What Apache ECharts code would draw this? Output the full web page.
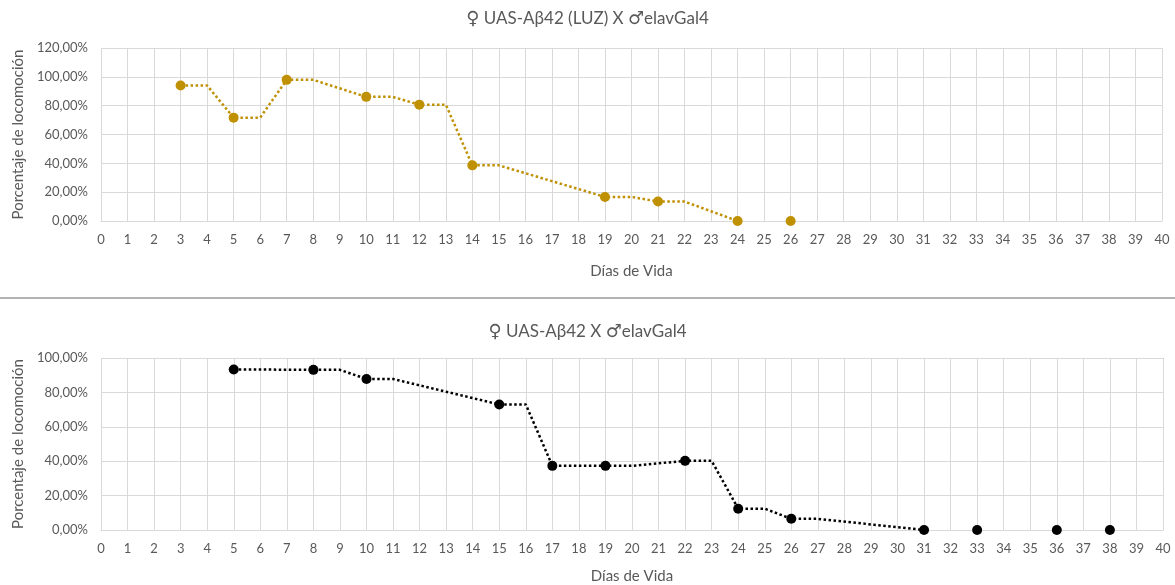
<!DOCTYPE html>
<html>
<head>
<meta charset="utf-8">
<script src="https://cdn.jsdelivr.net/npm/echarts@6/dist/echarts.min.js"></script>
<style>
html,body{margin:0;padding:0;background:#fff;}
#c{width:1175px;height:585px;}
</style>
</head>
<body>
<div id="c"></div>
<script>
// ---- data ----
const titleTopParts = ['♀', 'UAS-Aβ42 (LUZ) X', '♂', 'elavGal4'];
const titleBottomParts = ['♀', 'UAS-Aβ42 X', '♂', 'elavGal4'];
const xAxisName = 'Días de Vida';
const yAxisName = 'Porcentaje de locomoción';

const daysLuz = [3, 5, 7, 10, 12, 14, 19, 21, 24, 26];
const valsLuz = [94.0, 71.7, 97.9, 86.1, 80.7, 38.6, 16.7, 13.5, 0, 0];

const daysAb = [5, 8, 10, 15, 17, 19, 22, 24, 26, 31, 33, 36, 38];
const valsAb = [93.3, 93.1, 87.8, 73.0, 37.3, 37.3, 40.2, 12.4, 6.5, 0, 0, 0, 0];

const xMin = 0, xMax = 40;
const yMaxTop = 120, yMaxBottom = 100;

// line path as drawn in the original: each point held for one day, then joined to the next
function stepLine(days, vals) {
  const out = [];
  for (let i = 0; i < days.length; i++) {
    out.push([days[i], vals[i]]);
    if (vals[i] === 0) break;
    if (i < days.length - 1) out.push([days[i] + 1, vals[i]]);
  }
  return out;
}
const pts = (d, v) => d.map((x, i) => [x, v[i]]);
const richTitle = p => '{s|' + p[0] + '} ' + p[1] + ' {s|' + p[2] + '}' + p[3];

const font = 'Lato, "Open Sans", sans-serif';
const txt = '#595959';
const gridC = '#d9d9d9';
const fmtPct = v => v.toFixed(2).replace('.', ',') + '%';

function xAx(gi) {
  return {
    type: 'value', gridIndex: gi, min: xMin, max: xMax, interval: 1,
    name: xAxisName, nameLocation: 'middle', nameGap: gi === 0 ? 43 : 39,
    nameTextStyle: {color: txt, fontSize: 15, fontFamily: font},
    axisLine: {show: true, lineStyle: {color: gridC, width: 1}},
    axisTick: {show: false},
    axisLabel: {color: txt, fontSize: 13, fontFamily: font, margin: 12},
    splitLine: {show: true, lineStyle: {color: gridC, width: 1}}
  };
}
function yAx(gi, max) {
  return {
    type: 'value', gridIndex: gi, min: 0, max: max, interval: 20,
    name: yAxisName, nameLocation: 'middle', nameGap: 70,
    nameTextStyle: {color: txt, fontSize: 15, fontFamily: font},
    axisLine: {show: false}, axisTick: {show: false},
    axisLabel: {color: txt, fontSize: 13, fontFamily: font, margin: 13, formatter: fmtPct},
    splitLine: {show: true, lineStyle: {color: gridC, width: 1}}
  };
}
const titleStyle = {
  color: txt, fontSize: 17, fontWeight: 'normal', fontFamily: font,
  rich: {s: {fontFamily: '"DejaVu Sans", sans-serif', fontSize: 18, color: txt}}
};

const gold = '#BF9000';
const black = '#000000';

const chart = echarts.init(document.getElementById('c'), null, {renderer: 'canvas'});
chart.setOption({
  backgroundColor: '#fff',
  animation: false,
  title: [
    {text: richTitle(titleTopParts), left: 'center', top: 5, textStyle: titleStyle},
    {text: richTitle(titleBottomParts), left: 'center', top: 318, textStyle: titleStyle}
  ],
  graphic: [
    {type: 'line', shape: {x1: 0, y1: 298, x2: 1175, y2: 298}, style: {stroke: '#b3b3b3', lineWidth: 2}}
  ],
  grid: [
    {left: 101, right: 13, top: 48, bottom: 364},
    {left: 101, right: 12, top: 358, bottom: 55}
  ],
  xAxis: [xAx(0), xAx(1)],
  yAxis: [yAx(0, yMaxTop), yAx(1, yMaxBottom)],
  series: [
    {type: 'line', xAxisIndex: 0, yAxisIndex: 0, data: stepLine(daysLuz, valsLuz), showSymbol: false,
      lineStyle: {color: gold, width: 2.5, type: [2.5, 2.5]}, z: 2},
    {type: 'scatter', xAxisIndex: 0, yAxisIndex: 0, data: pts(daysLuz, valsLuz), symbolSize: 10,
      itemStyle: {color: gold, opacity: 1}, z: 3},
    {type: 'line', xAxisIndex: 1, yAxisIndex: 1, data: stepLine(daysAb, valsAb), showSymbol: false,
      lineStyle: {color: black, width: 2.5, type: [2.5, 2.5]}, z: 2},
    {type: 'scatter', xAxisIndex: 1, yAxisIndex: 1, data: pts(daysAb, valsAb), symbolSize: 10,
      itemStyle: {color: black, opacity: 1}, z: 3}
  ]
});
</script>
</body>
</html>
